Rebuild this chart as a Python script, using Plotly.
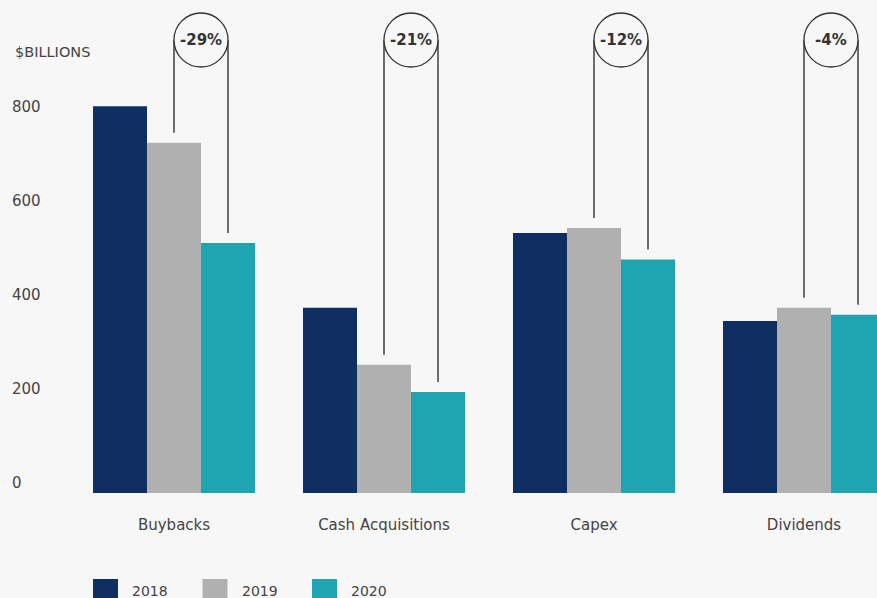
import plotly.graph_objects as go

# ---- data ($ billions) ----
categories = ["Buybacks", "Cash Acquisitions", "Capex", "Dividends"]
years = ["2018", "2019", "2020"]
values_2018 = [823, 394, 553, 366]
values_2019 = [745, 273, 564, 394]
values_2020 = [532, 215, 497, 379]
change_labels = ["-29%", "-21%", "-12%", "-4%"]
y_tick_values = [0, 200, 400, 600, 800]

colors = ["#0f2f62", "#b0b0b0", "#1fa4b2"]
series = [values_2018, values_2019, values_2020]

# ---- layout geometry (pixels) ----
FIG_W, FIG_H = 877, 598
PLOT_LEFT = 69
PLOT_BOTTOM = 493
PX_PER_UNIT = 0.47
Y_TOP = PLOT_BOTTOM / PX_PER_UNIT
CAT_PX = 210
BARGAP = 0.2286
BAR_W = (1 - BARGAP) / 3
X_MAX = -0.5 + (FIG_W - PLOT_LEFT) / CAT_PX

FONT = "DejaVu Sans"
TEXT = "#444444"
BG = "#f7f7f7"


def y_at_px(py):
    return (PLOT_BOTTOM - py) / PX_PER_UNIT


def paper_x(px):
    return px / FIG_W


def paper_y(py):
    return (PLOT_BOTTOM - py) / PLOT_BOTTOM


fig = go.Figure()
for name, vals, col in zip(years, series, colors):
    fig.add_trace(go.Bar(name=name, x=categories, y=vals, marker=dict(color=col, line=dict(width=0)),
                         hoverinfo="x+y+name"))

# ---- change markers: circle with two leader lines down to the 2019 / 2020 bars ----
circle_cy = y_at_px(40)
radius_y = 27 / PX_PER_UNIT
gap = 10 / PX_PER_UNIT
shapes = []
annotations = []
for i, (v19, v20, lab) in enumerate(zip(values_2019, values_2020, change_labels)):
    x19 = i
    x20 = i + BAR_W
    shapes.append(dict(type="line", xref="x", yref="y", x0=x19, x1=x19, y0=v19 + gap, y1=circle_cy,
                       line=dict(color="#4a4a4a", width=1.6)))
    shapes.append(dict(type="line", xref="x", yref="y", x0=x20, x1=x20, y0=v20 + gap, y1=circle_cy,
                       line=dict(color="#4a4a4a", width=1.6)))
    shapes.append(dict(type="circle", xref="x", yref="y", x0=x19, x1=x20,
                       y0=circle_cy - radius_y, y1=circle_cy + radius_y,
                       line=dict(color="#333333", width=1.3), fillcolor=BG))
    annotations.append(dict(xref="x", yref="y", x=(x19 + x20) / 2, y=circle_cy, text="<b>%s</b>" % lab,
                            showarrow=False, xanchor="center", yanchor="middle",
                            font=dict(family=FONT, size=15, color="#333333")))

# unit label
annotations.append(dict(xref="paper", yref="paper", x=paper_x(13), y=paper_y(52), text="$BILLIONS",
                        showarrow=False, xanchor="left", yanchor="middle",
                        font=dict(family=FONT, size=14.5, color=TEXT)))

# ---- legend ----
for k, (name, col) in enumerate(zip(years, colors)):
    sx = 93 + k * 109.5
    shapes.append(dict(type="rect", xref="paper", yref="paper", x0=paper_x(sx), x1=paper_x(sx + 25),
                       y0=paper_y(604), y1=paper_y(579), fillcolor=col, line=dict(width=0)))
    annotations.append(dict(xref="paper", yref="paper", x=paper_x(sx + 37), y=paper_y(591), text=name,
                            showarrow=False, xanchor="left", yanchor="middle",
                            font=dict(family=FONT, size=14, color=TEXT)))

fig.update_layout(
    width=FIG_W, height=FIG_H,
    margin=dict(l=0, r=0, t=0, b=FIG_H - PLOT_BOTTOM, pad=0),
    paper_bgcolor=BG, plot_bgcolor=BG,
    barmode="group", bargap=BARGAP, bargroupgap=0,
    showlegend=False,
    shapes=shapes, annotations=annotations,
    xaxis=dict(domain=[PLOT_LEFT / FIG_W, 1], range=[-0.5, X_MAX], showgrid=False, zeroline=False,
               showline=False, ticks="", ticklabelstandoff=21,
               tickfont=dict(family=FONT, size=15, color=TEXT)),
    yaxis=dict(range=[0, Y_TOP], anchor="free", position=paper_x(8), ticklabelposition="inside",
               tickvals=y_tick_values, showgrid=False, zeroline=False, showline=False, ticks="",
               ticklabelshift=-10, tickfont=dict(family=FONT, size=15, color=TEXT)),
)

fig.write_html("out.html")
